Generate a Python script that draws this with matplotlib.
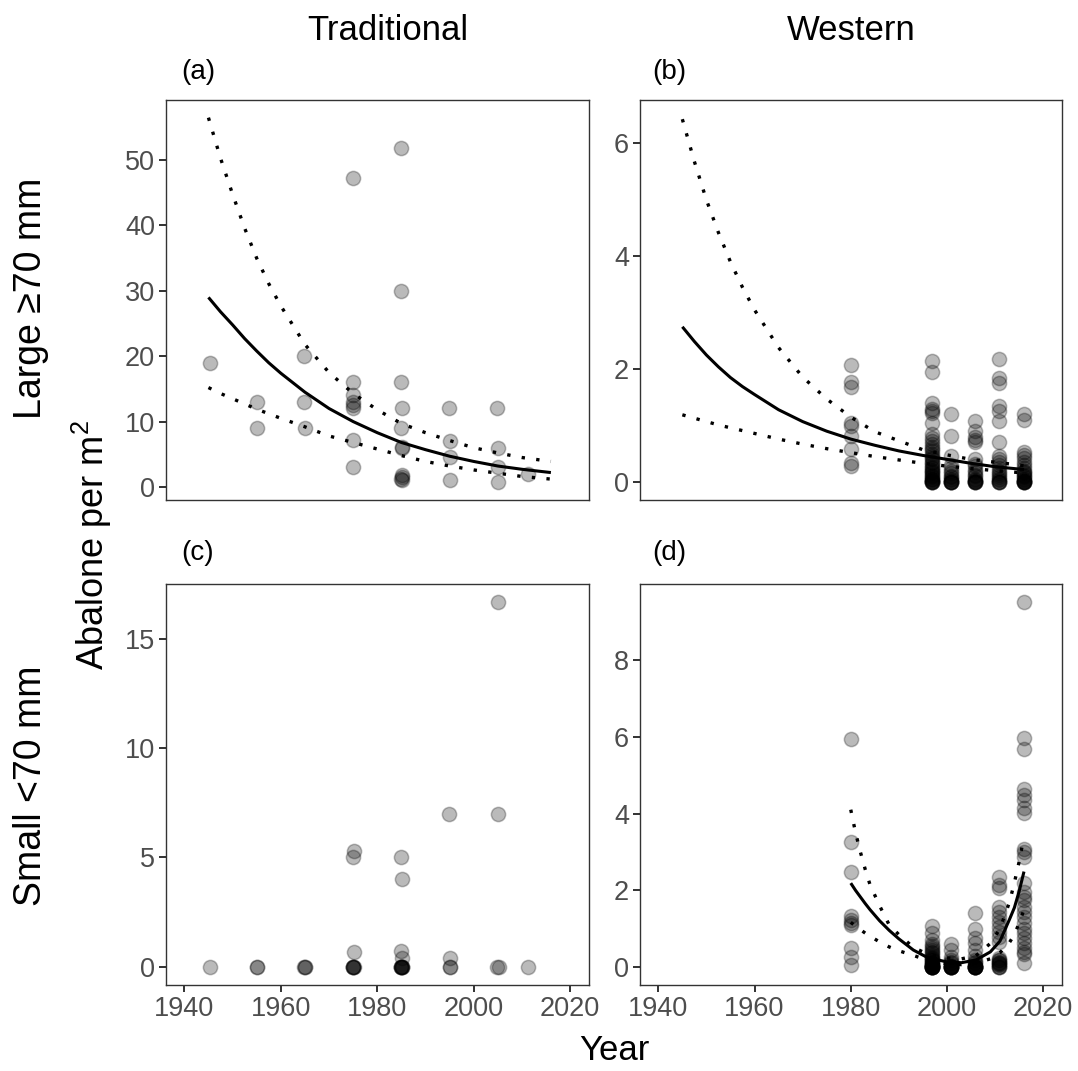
import matplotlib
matplotlib.use('Agg')
import matplotlib.pyplot as plt
import numpy as np

plt.rcParams['font.family'] = ['Liberation Sans', 'DejaVu Sans']
plt.rcParams['mathtext.default'] = 'regular'

# ---- data ----
# (a) Traditional, large
trad_large_year = [1945.3,
                   1955.1, 1955.1,
                   1964.8, 1964.8, 1965.0,
                   1975.0, 1975.0, 1975.0, 1974.9, 1974.9, 1974.9, 1975.0, 1974.9,
                   1985.0, 1985.0, 1984.9, 1985.2, 1985.0, 1985.1, 1985.2, 1985.1, 1985.1, 1985.0, 1985.1,
                   1994.9, 1995.1, 1995.0, 1995.1,
                   2004.9, 2005.0, 2005.1, 2005.1,
                   2011.2]
trad_large_val = [19.0,
                  13.0, 9.0,
                  20.0, 13.0, 9.0,
                  47.2, 16.0, 14.0, 13.0, 12.5, 12.0, 7.2, 3.0,
                  51.9, 30.0, 16.0, 12.1, 9.0, 6.1, 6.0, 1.9, 1.5, 1.2, 1.0,
                  12.0, 7.0, 4.6, 1.1,
                  12.0, 6.0, 3.0, 0.8,
                  2.0]

# (c) Traditional, small
trad_small_year = [1945.3,
                   1955.1, 1955.1,
                   1964.8, 1965.0, 1965.0,
                   1975.2, 1974.9, 1975.2, 1974.9, 1975.0, 1975.0, 1975.1, 1975.0,
                   1985.0, 1985.2, 1985.0, 1985.2, 1985.0, 1985.1, 1985.1, 1984.9, 1985.0, 1985.0, 1985.1,
                   1994.9, 1995.0, 1995.0, 1995.1,
                   2005.0, 2005.1, 2004.8, 2005.2,
                   2011.2]
trad_small_val = [0,
                  0, 0,
                  0, 0, 0,
                  5.3, 5.0, 0.67, 0, 0, 0, 0, 0,
                  5.0, 4.0, 0.72, 0.41, 0, 0, 0, 0, 0, 0, 0,
                  7.0, 0.41, 0, 0,
                  16.7, 7.0, 0, 0,
                  0]

# (b) Western, large
west_large_1980 = [2.07, 1.77, 1.69, 1.05, 0.99, 0.81, 0.58, 0.34, 0.28]
west_large_1997 = [2.15, 1.95, 1.40, 1.30, 1.25, 1.22, 1.05, 0.85, 0.78, 0.72, 0.68,
                   0.62, 0.58, 0.55, 0.50, 0.46, 0.42, 0.40, 0.36, 0.33, 0.30, 0.27,
                   0.24, 0.22, 0.20, 0.18, 0.15, 0.13, 0.10, 0.08, 0.06, 0.05, 0.03,
                   0.02, 0, 0, 0, 0, 0]
west_large_2001 = [1.20, 0.81, 0.46, 0.30, 0.25, 0.20, 0.15, 0.10, 0.08, 0.05, 0.03,
                   0, 0, 0, 0, 0, 0]
west_large_2006 = [1.08, 0.90, 0.80, 0.75, 0.70, 0.40, 0.32, 0.28, 0.22, 0.18, 0.12,
                   0.10, 0.06, 0.04, 0.02, 0, 0, 0, 0, 0]
west_large_2011 = [2.18, 1.85, 1.76, 1.35, 1.26, 1.08, 0.71, 0.46, 0.40, 0.35, 0.30,
                   0.25, 0.20, 0.15, 0.12, 0.08, 0.05, 0.03, 0, 0, 0, 0]
west_large_2016 = [1.20, 1.10, 0.53, 0.48, 0.42, 0.35, 0.30, 0.25, 0.20, 0.18, 0.15,
                   0.12, 0.10, 0.08, 0.05, 0.03, 0.02, 0, 0, 0, 0, 0, 0]

# (d) Western, small
west_small_1980 = [5.94, 3.25, 2.49, 1.34, 1.23, 1.15, 1.10, 0.51, 0.26, 0.06]
west_small_1997 = [1.08, 0.89, 0.71, 0.60, 0.55, 0.50, 0.45, 0.40, 0.36, 0.32, 0.28,
                   0.25, 0.22, 0.20, 0.18, 0.15, 0.12, 0.10, 0.08, 0.06, 0.05, 0.04,
                   0.03, 0.02, 0.01, 0, 0, 0, 0, 0, 0, 0, 0]
west_small_2001 = [0.60, 0.45, 0.28, 0.20, 0.15, 0.10, 0.05, 0.03, 0, 0, 0, 0, 0, 0, 0, 0, 0]
west_small_2006 = [1.41, 1.00, 0.76, 0.63, 0.45, 0.30, 0.20, 0.15, 0.10, 0.05, 0.02,
                   0, 0, 0, 0, 0, 0, 0, 0, 0]
west_small_2011 = [2.36, 2.15, 2.06, 1.58, 1.45, 1.32, 1.19, 1.06, 0.93, 0.80, 0.67,
                   0.25, 0.20, 0.19, 0.15, 0.12, 0.10, 0.08, 0.06, 0, 0, 0]
west_small_2016 = [9.5, 5.96, 5.68, 4.64, 4.49, 4.36, 4.14, 4.01, 3.07, 3.01, 2.88,
                   2.19, 1.95, 1.84, 1.75, 1.58, 1.45, 1.32, 1.15, 1.0, 0.89, 0.76,
                   0.63, 0.50, 0.41, 0.35, 0.10]

# fitted curves
fit_years_large = [1945, 1947.5, 1950, 1952.5, 1955, 1957.5, 1960, 1965, 1970, 1975,
                   1980, 1985, 1990, 1995, 2000, 2005, 2010, 2016]
trad_fit = [29.0, 26.8, 24.8, 22.7, 20.8, 19.0, 17.4, 14.5, 12.0, 10.0, 8.3, 6.8, 5.7,
            4.7, 3.9, 3.2, 2.7, 2.2]
trad_upper = [56.5, 50.3, 44.8, 39.6, 35.0, 31.1, 27.7, 21.8, 17.5, 14.3, 11.8, 9.7, 8.3,
              7.1, 6.0, 5.2, 4.5, 3.9]
trad_lower = [15.2, 14.3, 13.5, 12.7, 11.9, 11.2, 10.5, 9.2, 7.8, 6.8, 5.8, 4.8, 3.9,
              3.2, 2.6, 2.1, 1.6, 1.2]
west_fit = [2.75, 2.49, 2.25, 2.04, 1.85, 1.69, 1.55, 1.28, 1.07, 0.90, 0.76, 0.65, 0.55,
            0.47, 0.40, 0.33, 0.27, 0.22]
west_upper = [6.43, 5.68, 5.0, 4.42, 3.9, 3.45, 3.05, 2.38, 1.86, 1.47, 1.15, 0.89, 0.73,
              0.57, 0.48, 0.40, 0.35, 0.29]
west_lower = [1.19, 1.13, 1.07, 1.01, 0.96, 0.91, 0.86, 0.76, 0.67, 0.59, 0.52, 0.45, 0.39,
              0.33, 0.28, 0.24, 0.20, 0.16]

fit_years_small = [1980, 1981, 1982, 1983, 1984, 1986, 1988, 1990, 1993, 1996, 2000, 2003,
                   2006, 2009, 2011, 2013, 2014, 2015, 2016]
ws_fit = [2.19, 2.00, 1.83, 1.66, 1.50, 1.21, 0.96, 0.74, 0.45, 0.25, 0.14, 0.12, 0.19,
          0.40, 0.68, 1.25, 1.55, 1.98, 2.49]
ws_upper = [4.10, 3.50, 3.00, 2.55, 2.15, 1.60, 1.10, 0.85, 0.52, 0.34, 0.24, 0.22, 0.30,
            0.62, 1.00, 1.70, 2.20, 2.75, 3.40]
ws_lower = [1.17, 1.07, 0.98, 0.89, 0.81, 0.66, 0.53, 0.43, 0.31, 0.18, 0.09, 0.07, 0.11,
            0.22, 0.38, 0.65, 0.85, 1.15, 1.50]

W, H = 1078, 1071
fig = plt.figure(figsize=(W / 100, H / 100), dpi=100)


def box(l, t, r, b):
    return [l / W, 1 - b / H, (r - l) / W, (b - t) / H]


ax_a = fig.add_axes(box(166, 100, 589, 500))
ax_b = fig.add_axes(box(640, 100, 1062, 500))
ax_c = fig.add_axes(box(166, 584, 589, 985))
ax_d = fig.add_axes(box(640, 584, 1062, 985))

pt_kw = dict(s=105, color='black', alpha=0.27, linewidths=1.1, edgecolors='black', zorder=2)
solid_kw = dict(color='black', lw=2.2, zorder=3, solid_capstyle='butt')
dot_kw = dict(color='black', lw=2.4, linestyle=(0, (1, 3.4)), zorder=3,
              dash_capstyle='butt')

# (a)
ax_a.scatter(trad_large_year, trad_large_val, **pt_kw)
ax_a.plot(fit_years_large, trad_fit, **solid_kw)
ax_a.plot(fit_years_large, trad_upper, **dot_kw)
ax_a.plot(fit_years_large, trad_lower, **dot_kw)
ax_a.set_ylim(-2.0, 59.2)
ax_a.set_yticks([0, 10, 20, 30, 40, 50])

# (b)
west_large = [(1980, west_large_1980), (1996.9, west_large_1997), (2000.8, west_large_2001),
              (2005.9, west_large_2006), (2010.9, west_large_2011), (2016.0, west_large_2016)]
for yr, vals in west_large:
    ax_b.scatter([yr] * len(vals), vals, **pt_kw)
ax_b.plot(fit_years_large, west_fit, **solid_kw)
ax_b.plot(fit_years_large, west_upper, **dot_kw)
ax_b.plot(fit_years_large, west_lower, **dot_kw)
ax_b.set_ylim(-0.32, 6.77)
ax_b.set_yticks([0, 2, 4, 6])

# (c)
ax_c.scatter(trad_small_year, trad_small_val, **pt_kw)
ax_c.set_ylim(-0.83, 17.5)
ax_c.set_yticks([0, 5, 10, 15])

# (d)
west_small = [(1980, west_small_1980), (1996.9, west_small_1997), (2000.8, west_small_2001),
              (2005.9, west_small_2006), (2010.9, west_small_2011), (2016.0, west_small_2016)]
for yr, vals in west_small:
    ax_d.scatter([yr] * len(vals), vals, **pt_kw)
ax_d.plot(fit_years_small, ws_fit, **solid_kw)
ax_d.plot(fit_years_small, ws_upper, **dot_kw)
ax_d.plot(fit_years_small, ws_lower, **dot_kw)
ax_d.set_ylim(-0.46, 9.97)
ax_d.set_yticks([0, 2, 4, 6, 8])

for ax in (ax_a, ax_b, ax_c, ax_d):
    ax.set_xlim(1936.2, 2023.9)
    ax.set_xticks([1940, 1960, 1980, 2000, 2020])
    for sp in ax.spines.values():
        sp.set_color('#333333')
        sp.set_linewidth(1.0)
    ax.tick_params(length=5, width=1.3, color='#222222', labelcolor='#4d4d4d',
                   labelsize=19.5, pad=3)
for ax in (ax_a, ax_b):
    ax.tick_params(axis='x', labelbottom=False, length=0)

# text
fig.text(388 / W, 1 - 30 / H, 'Traditional', ha='center', va='center', fontsize=25)
fig.text(851 / W, 1 - 30 / H, 'Western', ha='center', va='center', fontsize=25)
for lbl, x, y in [('(a)', 181, 72), ('(b)', 652, 72), ('(c)', 181, 553), ('(d)', 652, 553)]:
    fig.text(x / W, 1 - y / H, lbl, ha='left', va='center', fontsize=20)
fig.text(31 / W, 1 - 298 / H, 'Large \u226570 mm', rotation=90, ha='center', va='center',
         fontsize=27)
fig.text(31 / W, 1 - 786 / H, 'Small <70 mm', rotation=90, ha='center', va='center',
         fontsize=27)
fig.text(92 / W, 1 - 545 / H, 'Abalone per m$^{2}$', rotation=90, ha='center', va='center',
         fontsize=26)
fig.text(614 / W, 1 - 1050 / H, 'Year', ha='center', va='center', fontsize=25)

fig.savefig('out.png', dpi=100, facecolor='white')
